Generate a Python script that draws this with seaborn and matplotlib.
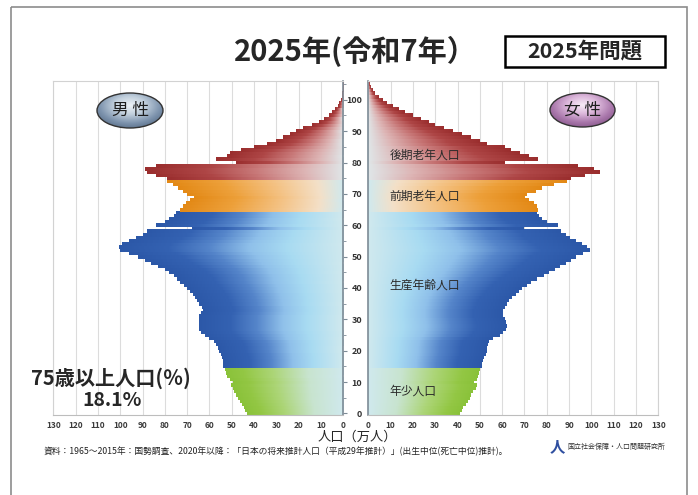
import matplotlib
matplotlib.use("Agg")
import matplotlib.pyplot as plt
import seaborn as sns
import numpy as np
import pandas as pd
from matplotlib.colors import LinearSegmentedColormap
from matplotlib.patches import Ellipse, Rectangle

# 2025 projected population by single age (万人)
ages = np.arange(0, 106)
male = [43, 44, 44.5, 45.5, 46.5, 47, 48, 49, 49.5, 50.5, 49.5, 51, 52, 52.5, 53,
        54, 54, 54, 54.5, 55, 55.5, 56, 57, 58, 60,
        62, 64, 64.5, 64.5, 64.5, 64.5, 64.5, 64, 63, 63.5,
        64.5, 65.5, 66.5, 67.5, 68.5, 70, 71.5, 73, 74.5, 76,
        78, 80, 83, 86, 89, 92, 96, 100, 100.5, 99,
        96, 93, 90, 88, 68, 84, 80, 78, 76, 75,
        73, 72, 70.5, 68.5, 67, 70, 72, 74, 76.5, 79,
        79, 84, 88, 89, 84, 48, 57, 52, 51, 46,
        40, 34, 30, 27, 24, 21, 18, 14, 11, 8.5, 6.5, 5, 3.5, 2.5, 1.8, 1.2,
        0.8, 0.5, 0.3, 0.2, 0.1]
female = [41, 42, 42.5, 43.5, 44.5, 45.5, 46, 47, 48, 48.5, 47.5, 48.5, 49, 49.5, 50,
          51, 51, 51.5, 52, 52.5, 53, 53, 53.5, 54, 56,
          59, 60.5, 61.5, 62, 61.5, 61, 60.5, 60.5, 60.5, 61,
          62, 63, 64.5, 66, 67.5, 69, 71, 73, 75.5, 78.5,
          81, 83.5, 86, 88.5, 91, 93, 96, 99.5, 98, 95.5,
          93, 90.5, 88.5, 86.5, 69.5, 85, 80, 78, 76.5, 75.5,
          76, 75.5, 74, 72, 70, 71, 75, 78, 83, 89,
          91, 97, 104, 101, 94, 61, 76, 72, 68, 64,
          61, 53, 50, 46, 42, 38, 34, 30, 27, 23.5, 20, 16.5, 13.5, 11, 8.5, 6.5,
          4.5, 3, 2, 1.2, 0.6]

group_names = ["年少人口", "生産年齢人口", "前期老年人口", "後期老年人口"]

cmaps = {
    "年少人口": LinearSegmentedColormap.from_list("g", [(0, "#d0e9ee"), (0.3, "#c8e4cf"), (0.6, "#acd577"), (0.85, "#93c744"), (1, "#8ac23a")]),
    "生産年齢人口": LinearSegmentedColormap.from_list("b", [(0, "#d0e9ee"), (0.25, "#a8dbf2"), (0.42, "#8fc0ea"), (0.6, "#5585ca"), (0.78, "#3462b2"), (1, "#2c58a8")]),
    "前期老年人口": LinearSegmentedColormap.from_list("o", [(0, "#d0e9ee"), (0.15, "#f3e0c8"), (0.4, "#f4c284"), (0.7, "#eda03a"), (1, "#e38916")]),
    "後期老年人口": LinearSegmentedColormap.from_list("r", [(0, "#e0e6e8"), (0.2, "#ddb4b4"), (0.45, "#c87878"), (0.7, "#ae4646"), (1, "#9a2e2e")]),
}


def age_group(a):
    if a <= 14:
        return group_names[0]
    if a <= 64:
        return group_names[1]
    if a <= 74:
        return group_names[2]
    return group_names[3]


sns.set_style("white")
plt.rcParams['font.family'] = ['Noto Sans CJK JP', 'DejaVu Sans']

W, H = 698, 495
fig = plt.figure(figsize=(W / 100, H / 100), dpi=100)
ax_m = fig.add_axes([53.3 / W, 80 / H, 290 / W, 334 / H])
ax_f = fig.add_axes([368.3 / W, 80 / H, 290 / W, 334 / H])

grad = np.linspace(0, 1, 256).reshape(1, -1)


def draw_side(ax, values):
    df = pd.DataFrame({"age": ages, "pop": values})
    sns.barplot(data=df, x="pop", y="age", orient="y", native_scale=True, width=1,
                color=".5", linewidth=0, errorbar=None, ax=ax)
    for bar in list(ax.patches):
        y0, h, w = bar.get_y(), bar.get_height(), bar.get_width()
        a = int(round(y0 + h / 2))
        cm = cmaps[age_group(a)]
        bar.set_facecolor("none")
        bar.set_edgecolor("none")
        # small vertical overlap hides seams between neighbouring bars
        ax.imshow(grad, extent=(0, w, y0 - 0.12, y0 + h + 0.12), origin="lower", cmap=cm,
                  aspect="auto", interpolation="bilinear", zorder=2 + a * 0.001)
    ax.set_xlim(0, 130)
    ax.set_ylim(-0.5, 106)
    ax.set_xlabel("")
    ax.set_ylabel("")
    ax.set_xticks(range(0, 131, 10))
    ax.set_yticks(range(0, 101, 10))
    ax.set_yticks(range(5, 106, 10), minor=True)
    ax.grid(axis="x", color="#dcdcdc", lw=0.8)
    ax.grid(axis="y", visible=False)
    ax.set_axisbelow(True)
    ax.tick_params(axis="x", length=0, labelsize=6, labelcolor="#3a3a3a", pad=4)
    plt.setp(ax.get_xticklabels(), fontweight="bold")
    for s in ax.spines.values():
        s.set_color("#d2d2d2")
        s.set_linewidth(0.8)
    ax.spines["bottom"].set_color("#bdbdbd")


draw_side(ax_m, male)
draw_side(ax_f, female)

ax_m.invert_xaxis()
ax_m.yaxis.tick_right()
ax_m.tick_params(axis="y", which="both", direction="out", color="#7d8b96", labelright=False)
ax_m.tick_params(axis="y", which="major", length=3)
ax_m.tick_params(axis="y", which="minor", length=2)
ax_m.spines["right"].set_color("#7d8b96")
ax_m.spines["right"].set_linewidth(1.2)

ax_f.tick_params(axis="y", which="both", direction="out", color="#7d8b96",
                 labelsize=6.5, labelcolor="#333333", pad=1.5)
ax_f.tick_params(axis="y", which="major", length=3)
ax_f.tick_params(axis="y", which="minor", length=2)
plt.setp(ax_f.get_yticklabels(), fontweight="bold")
ax_f.spines["left"].set_color("#7d8b96")
ax_f.spines["left"].set_linewidth(1.2)

# group labels on the female side
label_pos = {"後期老年人口": 82.3, "前期老年人口": 69.4, "生産年齢人口": 40.8, "年少人口": 7.0}
for name, yy in label_pos.items():
    ax_f.text(9.5, yy, name, fontsize=8.5, color="#2a2a2a", va="center", ha="left", zorder=5)

# overlay in pixel coordinates
ov = fig.add_axes([0, 0, 1, 1], zorder=10)
ov.set_xlim(0, W)
ov.set_ylim(H, 0)
ov.axis("off")
ov.patch.set_alpha(0)

ov.add_patch(Rectangle((10.5, 6.5), 676, 495, fill=False, ec="#8c8c8c", lw=1.2))

ov.text(355, 51, "2025年(令和7年）", ha="center", va="center", fontsize=21, fontweight="bold")
ov.add_patch(Rectangle((505, 36), 160, 31, fill=False, ec="black", lw=1.8))
ov.text(585, 52, "2025年問題", ha="center", va="center", fontsize=15.5, fontweight="bold")


def gradient_ellipse(cx, cy, w, h, colors, label):
    ell = Ellipse((cx, cy), w, h, fc="none", ec="#333333", lw=1.0, zorder=3)
    ov.add_patch(ell)
    xs = np.linspace(-1, 1, 120)
    ys = np.linspace(-1, 1, 60)
    X, Y = np.meshgrid(xs, ys)
    r = np.sqrt(X ** 2 + ((Y + 0.3) / 1.1) ** 2)
    cm = LinearSegmentedColormap.from_list("e", colors)
    im = ov.imshow(r, extent=(cx - w / 2, cx + w / 2, cy + h / 2, cy - h / 2), origin="upper",
                   cmap=cm, vmin=0, vmax=1.4, aspect="auto", interpolation="bilinear", zorder=2)
    im.set_clip_path(ell)
    ov.text(cx, cy, label, ha="center", va="center", fontsize=12, color="#1e1e1e", zorder=4)


gradient_ellipse(130, 110.5, 66, 35, ["#eef3f7", "#c2d0dd", "#7d93ad", "#4b617b"], "男 性")
gradient_ellipse(582.5, 110, 65, 34, ["#f8ecf7", "#ddb9dc", "#a977ab", "#7a4a7e"], "女 性")
ov.set_xlim(0, W)
ov.set_ylim(H, 0)

ov.text(111, 378, "75歳以上人口(％)", ha="center", va="center", fontsize=14.5, fontweight="bold")
ov.text(112, 400, "18.1%", ha="center", va="center", fontsize=14, fontweight="bold")

ov.text(357, 437, "人口（万人）", ha="center", va="center", fontsize=9.5)
ov.text(44, 451, "資料：1965～2015年：国勢調査、2020年以降：「日本の将来推計人口（平成29年推計）」(出生中位(死亡中位)推計)。",
        ha="left", va="center", fontsize=6.3, color="#222222")
ov.text(557, 446, "人", ha="center", va="center", fontsize=11, fontweight="bold",
        color="#2f4fa0", style="italic")
ov.text(567, 447, "国立社会保障・人口問題研究所", ha="left", va="center", fontsize=5, color="#333333")

fig.savefig("out.png", dpi=100)
